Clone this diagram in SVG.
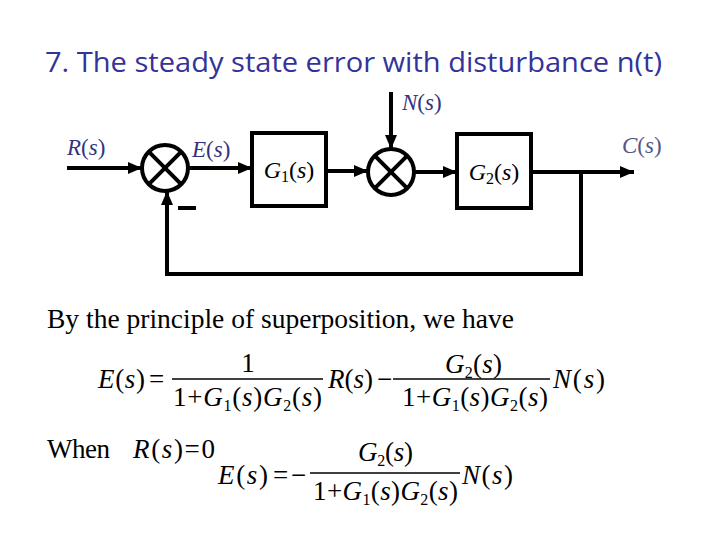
<svg xmlns="http://www.w3.org/2000/svg" width="720" height="540" viewBox="0 0 720 540">
<defs>
<style>
.title{font-family:"Open Sans","DejaVu Sans",sans-serif;font-size:28px;fill:#333399;}
.lbl{font-family:"Liberation Serif","Times New Roman",serif;font-size:23px;fill:#333380;}
.m{font-family:"Liberation Serif","Times New Roman",serif;font-size:27px;fill:#000;}
.bm{font-family:"Liberation Serif","Times New Roman",serif;font-size:24px;fill:#000;}
.txt{font-family:"Liberation Serif","Times New Roman",serif;font-size:27px;fill:#000;}
.i{font-style:italic;}
.sub{font-size:16px;}
.w{fill:none;stroke:#000;stroke-width:4;}
.bar{stroke:#000;stroke-width:1.6;}
</style>
<marker id="ah" markerUnits="userSpaceOnUse" markerWidth="14" markerHeight="12" refX="14" refY="6" orient="auto">
<path d="M0,0 L14,6 L0,12 z" fill="#000"/>
</marker>
</defs>
<rect width="720" height="540" fill="#fff"/>
<text class="title" x="45" y="72" textLength="617" lengthAdjust="spacingAndGlyphs">7. The steady state error with disturbance n(t)</text>

<g id="connectors">
<line class="w" x1="67" y1="168" x2="142" y2="168" marker-end="url(#ah)"/>
<line class="w" x1="188" y1="168" x2="252" y2="168" marker-end="url(#ah)"/>
<line class="w" x1="326" y1="171" x2="368" y2="171" marker-end="url(#ah)"/>
<line class="w" x1="391" y1="92" x2="391" y2="149" marker-end="url(#ah)"/>
<line class="w" x1="414" y1="172" x2="457" y2="172" marker-end="url(#ah)"/>
<line class="w" x1="531" y1="172" x2="634" y2="172" marker-end="url(#ah)"/>
<polyline class="w" points="581,172 581,274 167,274 167,191" marker-end="url(#ah)"/>
<line class="w" x1="178" y1="208" x2="196" y2="208"/>
</g>

<g id="sum1">
<circle class="w" cx="165" cy="168" r="23"/>
<line class="w" x1="148.7" y1="151.7" x2="181.3" y2="184.3"/>
<line class="w" x1="181.3" y1="151.7" x2="148.7" y2="184.3"/>
</g>
<g id="g1">
<rect class="w" x="252" y="133" width="74" height="73"/>
<text class="bm" x="289" y="178" text-anchor="middle"><tspan class="i">G</tspan><tspan class="sub" dy="4">1</tspan><tspan dy="-4">(</tspan><tspan class="i">s</tspan>)</text>
</g>
<g id="sum2">
<circle class="w" cx="391" cy="172" r="23"/>
<line class="w" x1="374.7" y1="155.7" x2="407.3" y2="188.3"/>
<line class="w" x1="407.3" y1="155.7" x2="374.7" y2="188.3"/>
</g>
<g id="g2">
<rect class="w" x="457" y="134" width="74" height="74"/>
<text class="bm" x="494" y="180" text-anchor="middle"><tspan class="i">G</tspan><tspan class="sub" dy="4">2</tspan><tspan dy="-4">(</tspan><tspan class="i">s</tspan>)</text>
</g>

<g id="labels">
<text class="lbl" x="67" y="155"><tspan class="i">R</tspan>(<tspan class="i">s</tspan>)</text>
<text class="lbl" x="192" y="157"><tspan class="i">E</tspan>(<tspan class="i">s</tspan>)</text>
<text class="lbl" x="402" y="110"><tspan class="i">N</tspan>(<tspan class="i">s</tspan>)</text>
<text class="lbl" x="622" y="153" style="fill:#555588"><tspan class="i">C</tspan>(<tspan class="i">s</tspan>)</text>
</g>

<text class="txt" x="47" y="328" textLength="467" lengthAdjust="spacingAndGlyphs">By the principle of superposition, we have</text>

<g id="eq1">
<text class="m" x="98" y="388" textLength="47"><tspan class="i">E</tspan>(<tspan class="i">s</tspan>)</text>
<text class="m" x="149" y="388">=</text>
<text class="m" x="248" y="372" text-anchor="middle">1</text>
<line class="bar" x1="172" y1="379" x2="323" y2="379"/>
<text class="m" x="173" y="406" textLength="149">1+<tspan class="i">G</tspan><tspan class="sub" dy="5">1</tspan><tspan dy="-5">(</tspan><tspan class="i">s</tspan>)<tspan class="i">G</tspan><tspan class="sub" dy="5">2</tspan><tspan dy="-5">(</tspan><tspan class="i">s</tspan>)</text>
<text class="m" x="328" y="388" textLength="45"><tspan class="i">R</tspan>(<tspan class="i">s</tspan>)</text>
<text class="m" x="377" y="388">−</text>
<line class="bar" x1="393" y1="379" x2="550" y2="379"/>
<text class="m" x="445" y="373" textLength="57"><tspan class="i">G</tspan><tspan class="sub" dy="5">2</tspan><tspan dy="-5">(</tspan><tspan class="i">s</tspan>)</text>
<text class="m" x="402" y="406" textLength="146">1+<tspan class="i">G</tspan><tspan class="sub" dy="5">1</tspan><tspan dy="-5">(</tspan><tspan class="i">s</tspan>)<tspan class="i">G</tspan><tspan class="sub" dy="5">2</tspan><tspan dy="-5">(</tspan><tspan class="i">s</tspan>)</text>
<text class="m" x="553" y="388" textLength="52"><tspan class="i">N</tspan>(<tspan class="i">s</tspan>)</text>
</g>

<g id="eq2">
<text class="txt" x="47" y="458" textLength="63">When</text>
<text class="m" x="133" y="458" textLength="82"><tspan class="i">R</tspan>(<tspan class="i">s</tspan>)=0</text>
<text class="m" x="218" y="484" textLength="50"><tspan class="i">E</tspan>(<tspan class="i">s</tspan>)</text>
<text class="m" x="273" y="484">=</text>
<text class="m" x="291" y="484">−</text>
<line class="bar" x1="310" y1="473" x2="460" y2="473"/>
<text class="m" x="358" y="461" textLength="55"><tspan class="i">G</tspan><tspan class="sub" dy="5">2</tspan><tspan dy="-5">(</tspan><tspan class="i">s</tspan>)</text>
<text class="m" x="313" y="500" textLength="145">1+<tspan class="i">G</tspan><tspan class="sub" dy="5">1</tspan><tspan dy="-5">(</tspan><tspan class="i">s</tspan>)<tspan class="i">G</tspan><tspan class="sub" dy="5">2</tspan><tspan dy="-5">(</tspan><tspan class="i">s</tspan>)</text>
<text class="m" x="462" y="484" textLength="51"><tspan class="i">N</tspan>(<tspan class="i">s</tspan>)</text>
</g>
</svg>
